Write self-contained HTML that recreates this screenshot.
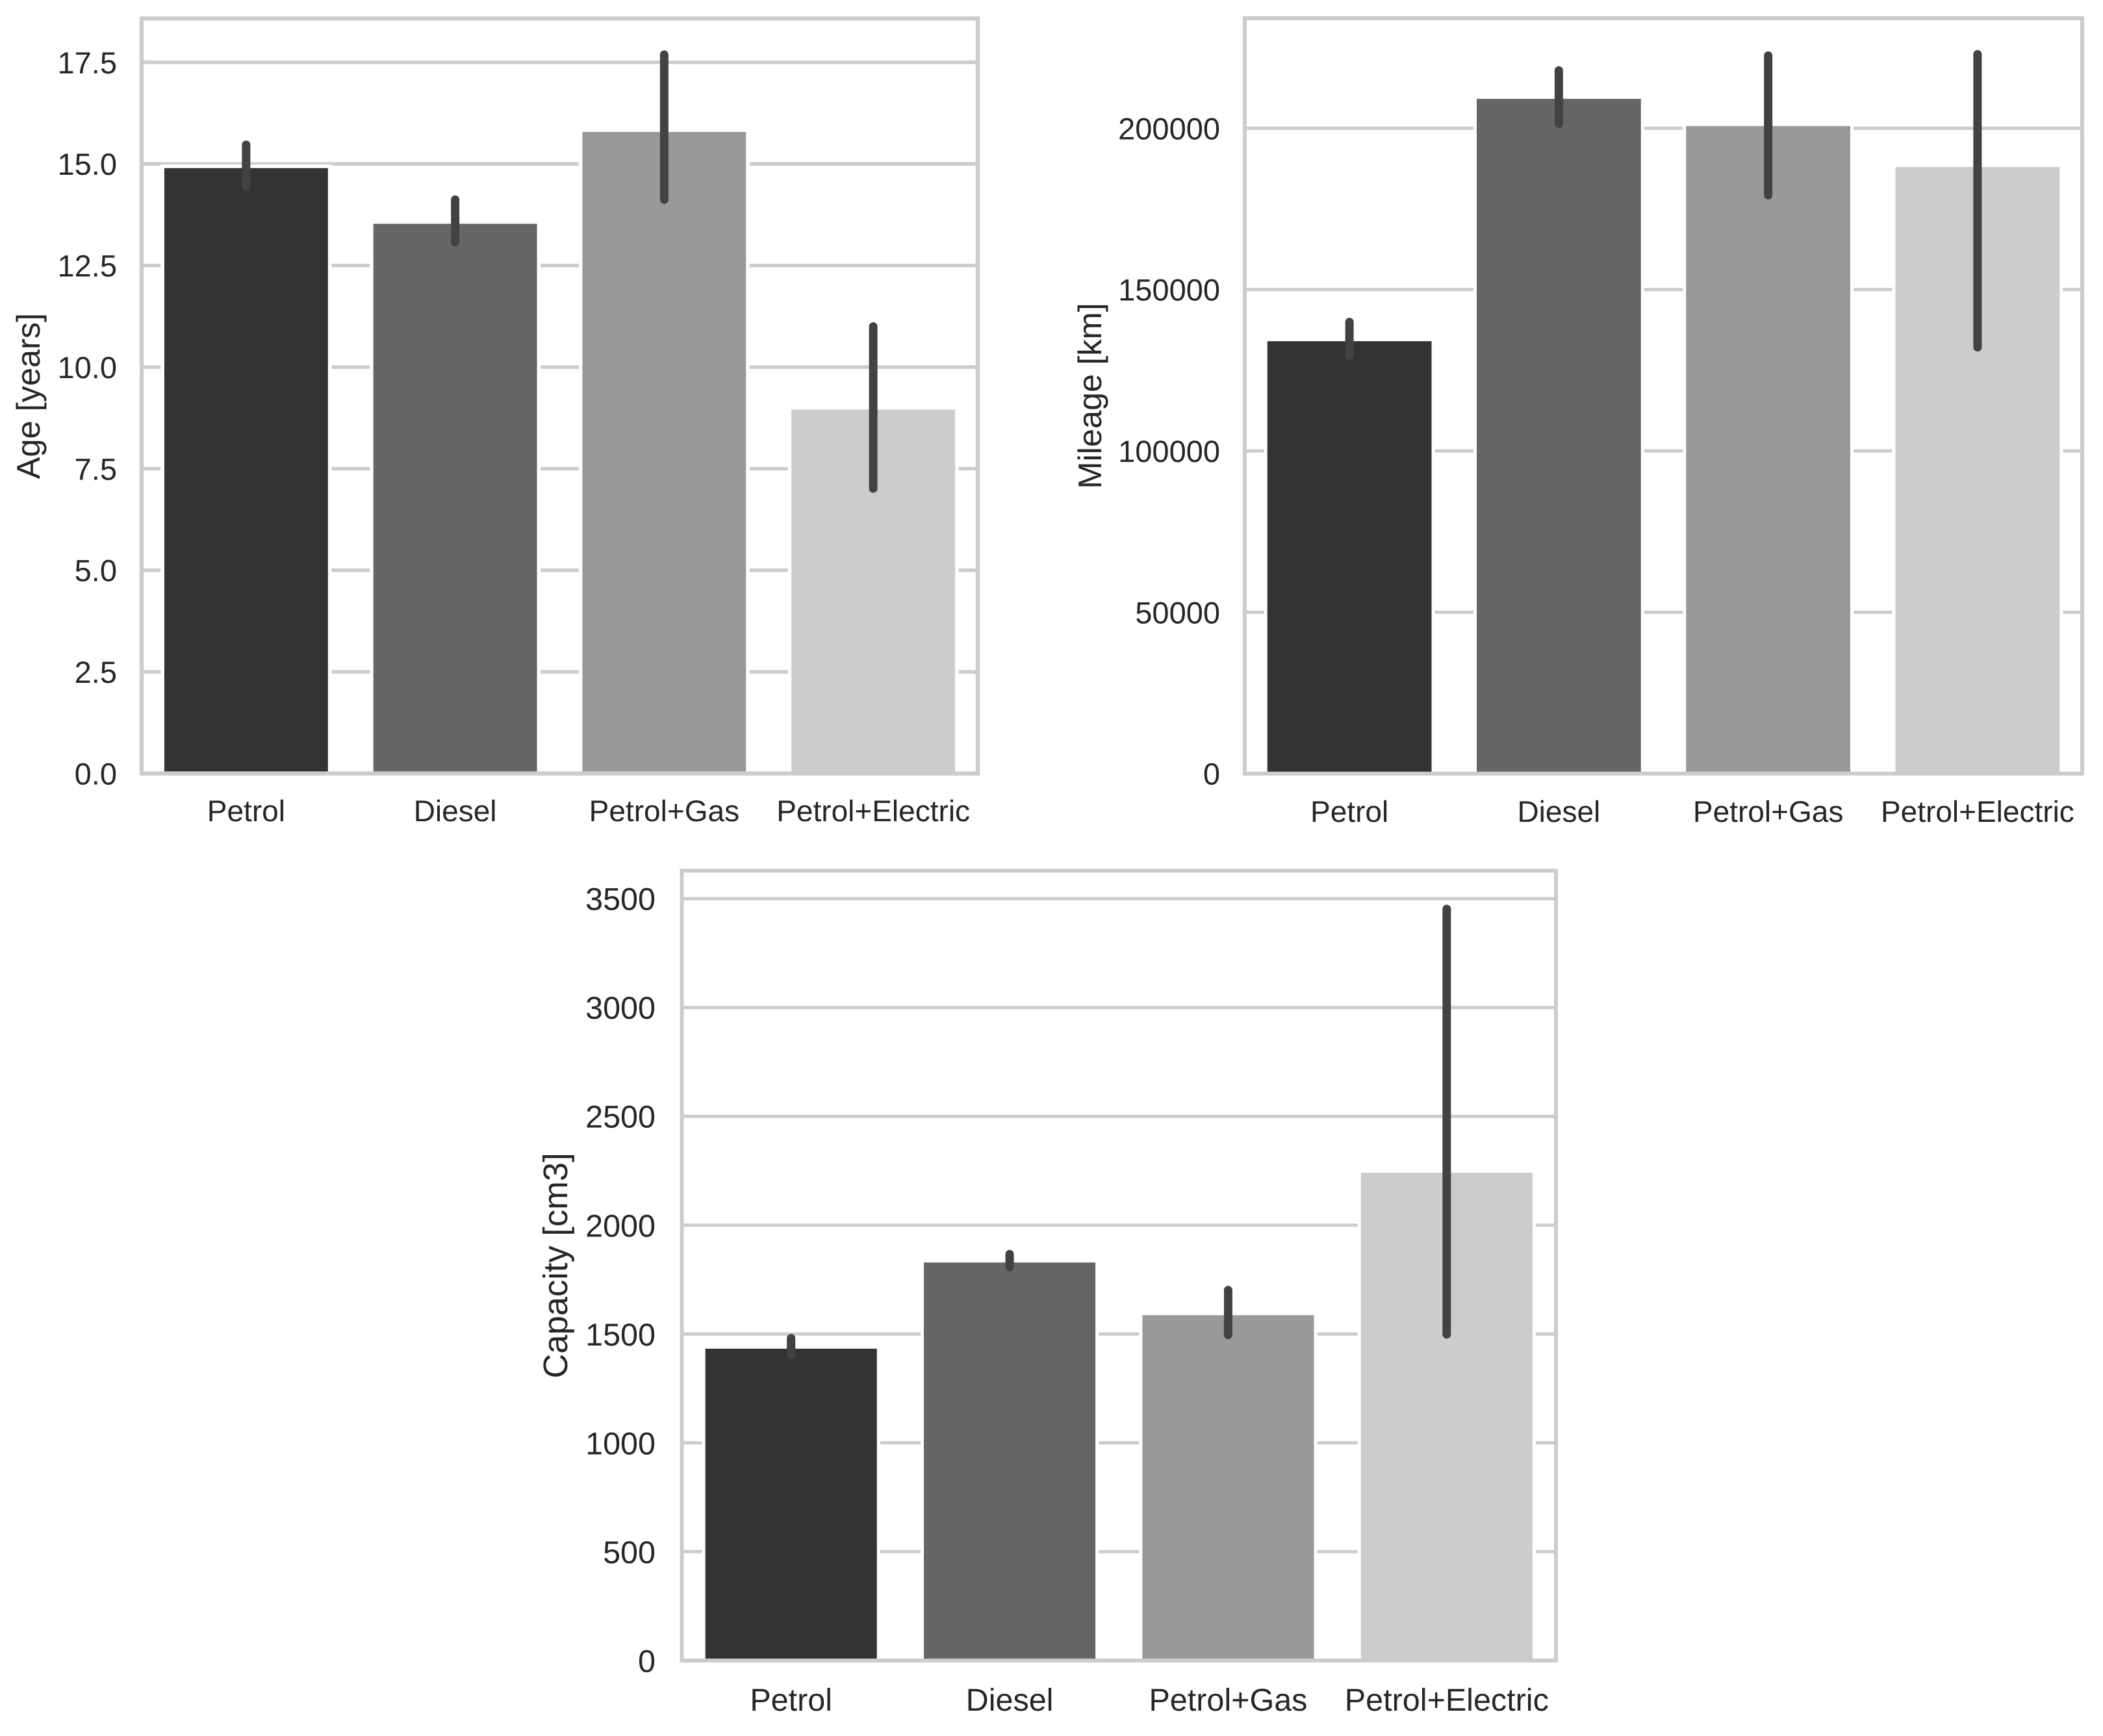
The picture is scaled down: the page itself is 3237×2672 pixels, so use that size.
<!DOCTYPE html>
<html lang="en">
<head>
<meta charset="utf-8">
<title>Vehicle age, mileage and capacity by fuel type</title>
<style>
  html, body { margin: 0; padding: 0; background: #fff; }
  svg { display: block; }
  text { font-family: "Liberation Sans", Arial, sans-serif; fill: #262626; text-rendering: geometricPrecision; }
</style>
</head>
<body>
<svg id="figure" xmlns="http://www.w3.org/2000/svg" width="3237" height="2672" viewBox="0 0 3237 2672">
  <rect x="0" y="0" width="3237" height="2672" fill="#ffffff"></rect>
</svg>
<script>
// ---- data ----
const categories = ['Petrol', 'Diesel', 'Petrol+Gas', 'Petrol+Electric'];
const barColors = ['#333333', '#666666', '#999999', '#cccccc'];

const ageValues = [14.94, 13.57, 15.83, 9.0];
const ageLow = [14.44, 13.07, 14.12, 7.01];
const ageHigh = [15.47, 14.12, 17.69, 11.0];
const ageTicks = [0, 2.5, 5, 7.5, 10, 12.5, 15, 17.5];
const ageTickLabels = ['0.0', '2.5', '5.0', '7.5', '10.0', '12.5', '15.0', '17.5'];

const mileageValues = [134500, 209600, 201170, 188480];
const mileageLow = [129480, 201370, 179220, 132100];
const mileageHigh = [139950, 217880, 222510, 222920];
const mileageTicks = [0, 50000, 100000, 150000, 200000];
const mileageTickLabels = ['0', '50000', '100000', '150000', '200000'];

const capacityValues = [1440, 1836, 1594, 2248];
const capacityLow = [1405, 1807, 1496, 1498];
const capacityHigh = [1481, 1867, 1702, 3453];
const capacityTicks = [0, 500, 1000, 1500, 2000, 2500, 3000, 3500];
const capacityTickLabels = ['0', '500', '1000', '1500', '2000', '2500', '3000', '3500'];

// ---- panels ----
const panels = [
  { id: 'age', title: 'Age [years]', values: ageValues, low: ageLow, high: ageHigh,
    ticks: ageTicks, tickLabels: ageTickLabels, yMax: 18.577,
    left: 218, right: 1505, top: 28.5, bottom: 1190.5,
    yTickFont: 47, xTickFont: 46, labelFont: 50.5, labelX: 61, tickEndX: 180, tickDy: 17, xBase: 1264,
    spine: 6.4, grid: 5.5, edge: 5.5, err: 13 },
  { id: 'mileage', title: 'Mileage [km]', values: mileageValues, low: mileageLow, high: mileageHigh,
    ticks: mileageTicks, tickLabels: mileageTickLabels, yMax: 234090,
    left: 1916, right: 3205, top: 28, bottom: 1190.7,
    yTickFont: 47, xTickFont: 46, labelFont: 50.5, labelX: 1695, tickEndX: 1878, tickDy: 17, xBase: 1265,
    spine: 6, grid: 5, edge: 5, err: 13 },
  { id: 'capacity', title: 'Capacity [cm3]', values: capacityValues, low: capacityLow, high: capacityHigh,
    ticks: capacityTicks, tickLabels: capacityTickLabels, yMax: 3629,
    left: 1049.5, right: 2395, top: 1340, bottom: 2555.8,
    yTickFont: 48.5, xTickFont: 48.5, labelFont: 52.5, labelX: 873, tickEndX: 1009, tickDy: 17.5, xBase: 2633,
    spine: 6, grid: 5, edge: 5, err: 13 }
];

// ---- drawing ----
const SVG_NS = 'http://www.w3.org/2000/svg';
const figure = document.getElementById('figure');

function make(parent, tag, attrs) {
  const node = document.createElementNS(SVG_NS, tag);
  Object.keys(attrs).forEach(function (k) { node.setAttribute(k, attrs[k]); });
  parent.appendChild(node);
  return node;
}

function drawPanel(p) {
  const yScale = function (v) { return p.bottom - (v / p.yMax) * (p.bottom - p.top); };
  const slot = (p.right - p.left) / categories.length;
  const xCenter = function (i) { return p.left + slot * (i + 0.5); };
  const barWidth = slot * 0.8;

  const panel = make(figure, 'g', {});
  
  

  // gridlines
  p.ticks.forEach(function (t, i) {
    const grid = make(panel, 'line', { x1: p.left, x2: p.right, y1: yScale(t), y2: yScale(t), stroke: '#cccccc', 'stroke-width': p.grid });
    
    
  });

  // bars
  categories.forEach(function (c, i) {
    const yTop = yScale(p.values[i]);
    const bar = make(panel, 'rect', { x: xCenter(i) - barWidth / 2, y: yTop, width: barWidth, height: p.bottom - yTop, fill: barColors[i], stroke: '#ffffff', 'stroke-width': p.edge });
    
    
  });

  // error bars
  categories.forEach(function (c, i) {
    const err = make(panel, 'line', { x1: xCenter(i), x2: xCenter(i), y1: yScale(p.low[i]), y2: yScale(p.high[i]), stroke: '#424242', 'stroke-width': p.err, 'stroke-linecap': 'round' });
    
    
  });

  // frame
  const frame = make(panel, 'rect', { x: p.left, y: p.top, width: p.right - p.left, height: p.bottom - p.top, fill: 'none', stroke: '#cccccc', 'stroke-width': p.spine });
  
  

  // y tick labels
  p.ticks.forEach(function (t, i) {
    const label = make(panel, 'text', { x: p.tickEndX, y: yScale(t) + p.tickDy, 'text-anchor': 'end', 'font-size': p.yTickFont });
    label.textContent = p.tickLabels[i];
    
    
  });

  // x tick labels
  categories.forEach(function (c, i) {
    const label = make(panel, 'text', { x: xCenter(i), y: p.xBase, 'text-anchor': 'middle', 'font-size': p.xTickFont });
    label.textContent = c;
    
    
  });

  // y axis title
  const midY = (p.top + p.bottom) / 2;
  const title = make(panel, 'text', { x: p.labelX, y: midY, 'text-anchor': 'middle', 'font-size': p.labelFont, transform: 'rotate(-90 ' + p.labelX + ' ' + midY + ')' });
  title.textContent = p.title;
  
  
}

panels.forEach(drawPanel);
</script>
</body>
</html>
